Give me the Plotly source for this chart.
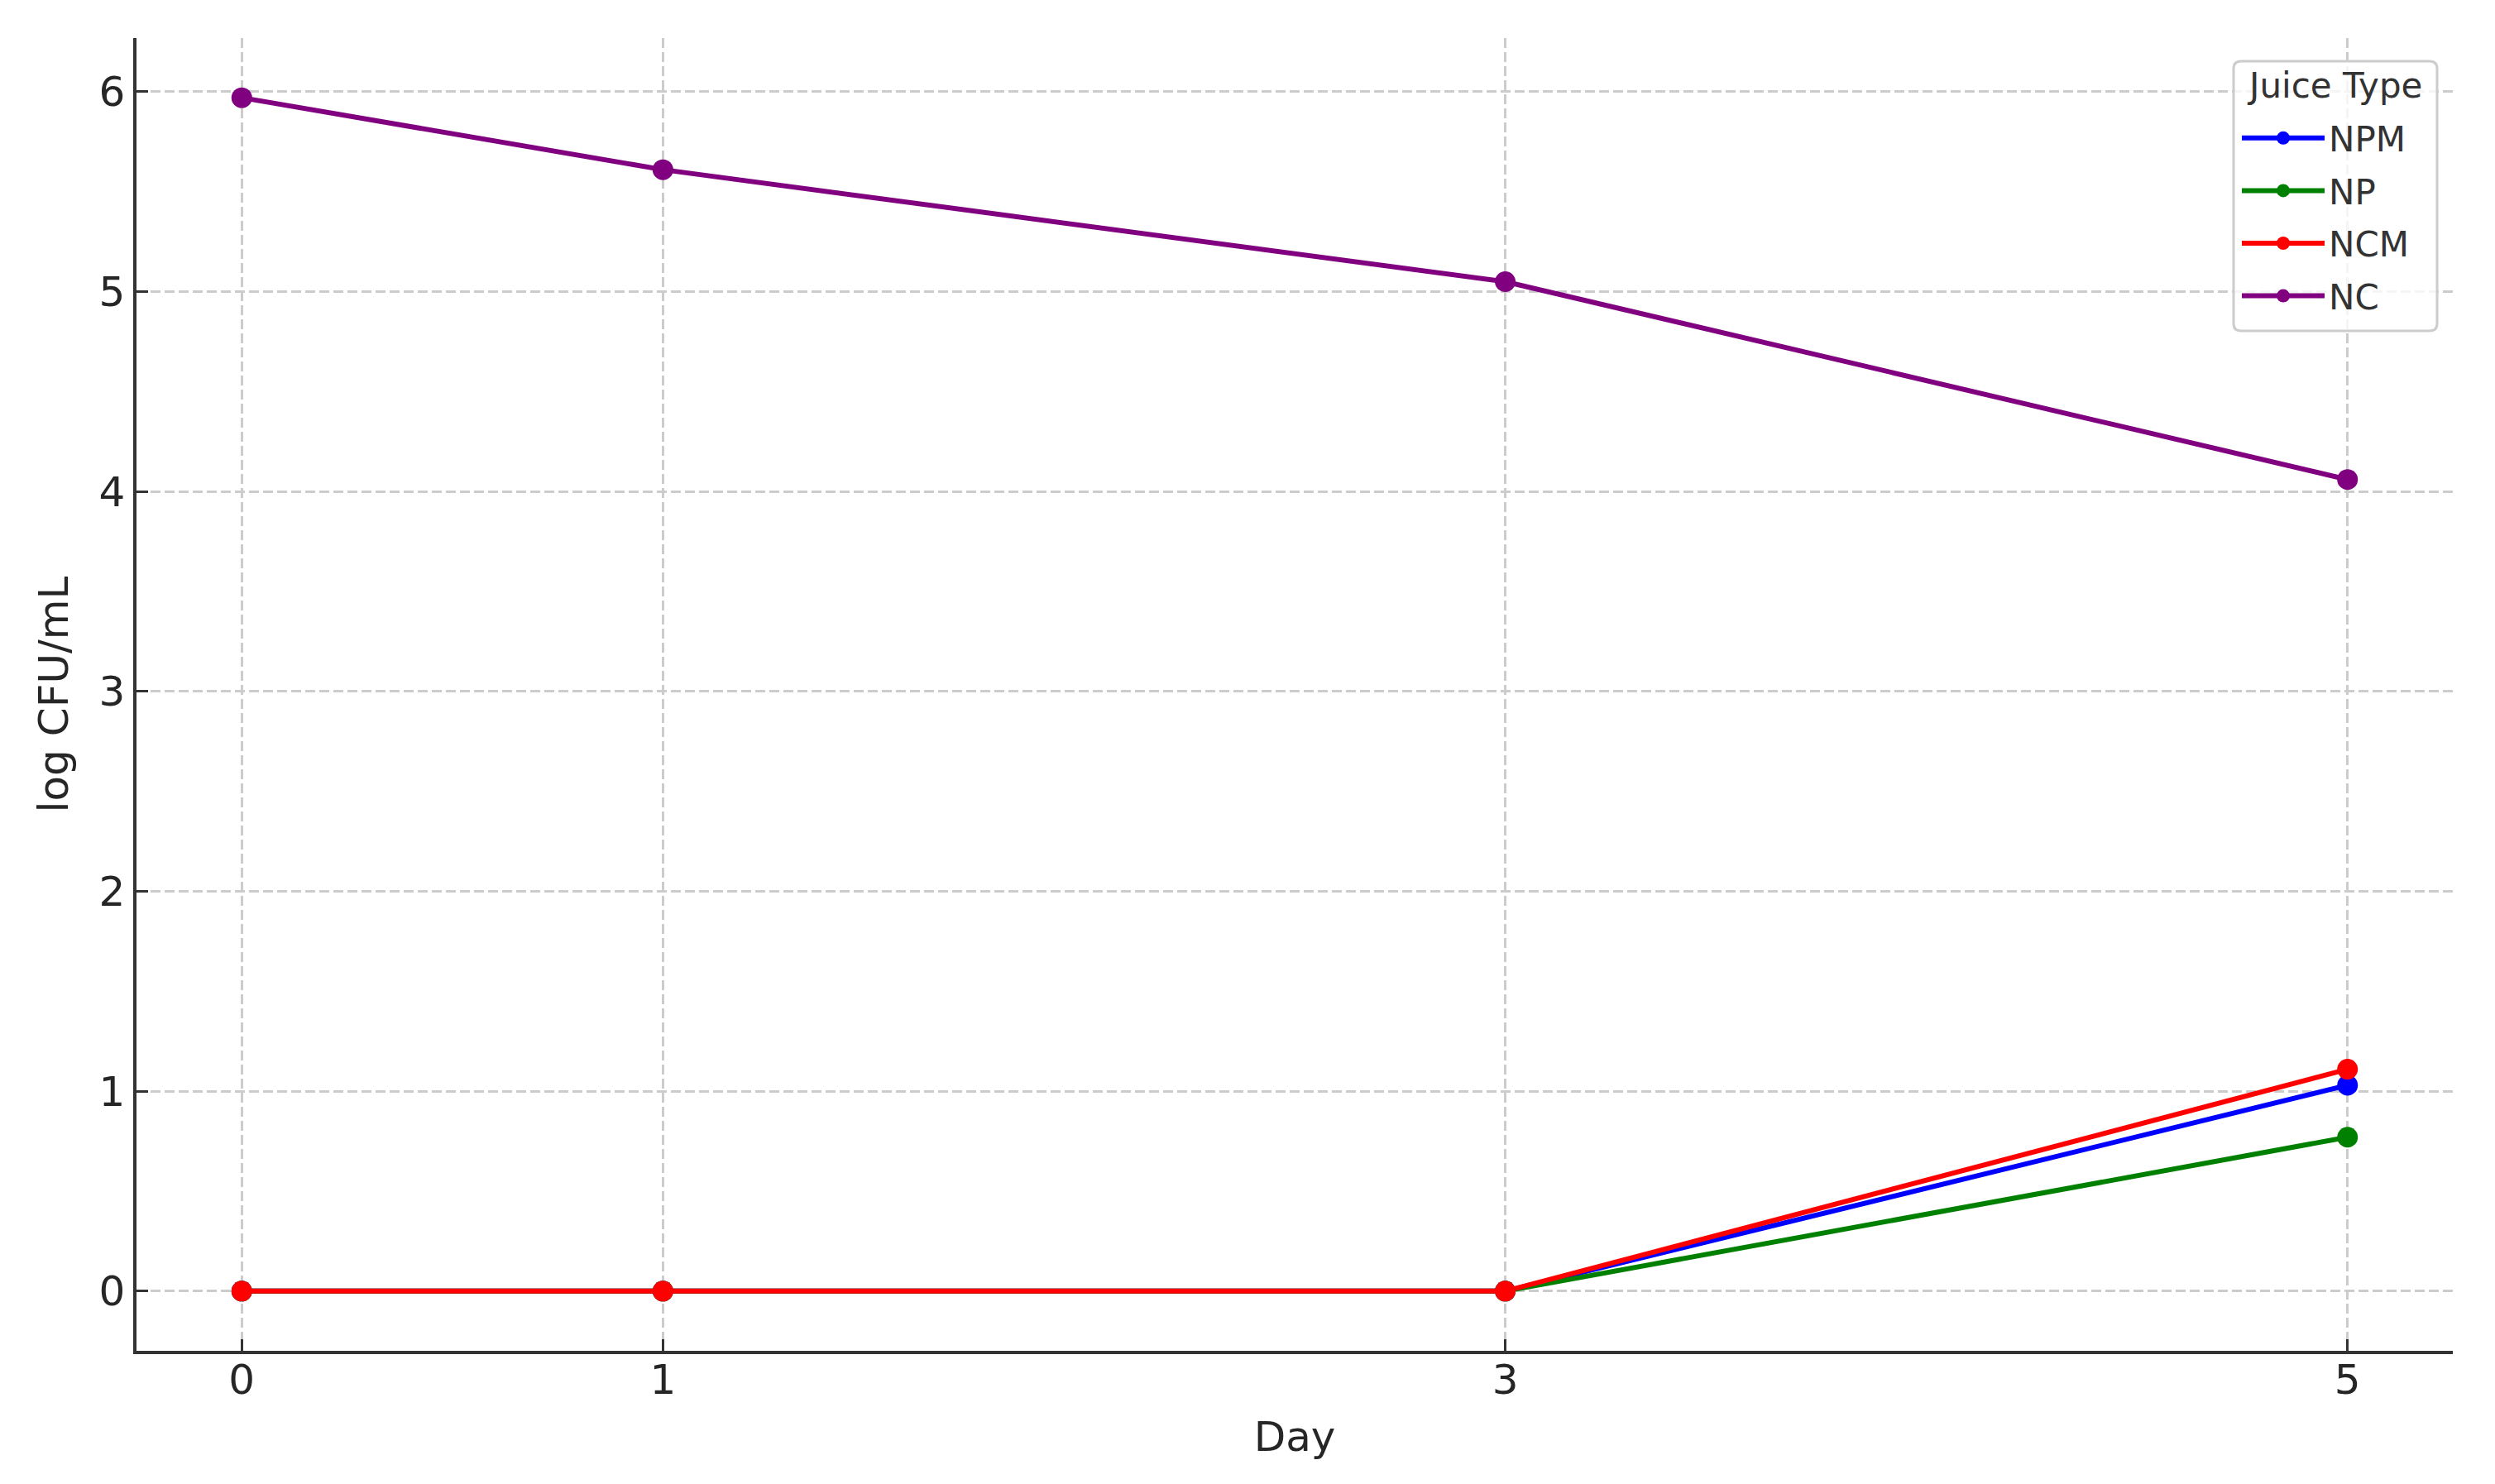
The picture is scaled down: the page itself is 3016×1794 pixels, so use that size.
import plotly.graph_objects as go

# Juice samples, log CFU/mL over storage days
days = [0, 1, 3, 5]
juice_types = ["NPM", "NP", "NCM", "NC"]
npm_values = [0, 0, 0, 1.03]
np_values = [0, 0, 0, 0.77]
ncm_values = [0, 0, 0, 1.11]
nc_values = [5.97, 5.61, 5.05, 4.06]
line_colors = ["blue", "green", "red", "purple"]
y_ticks = [0, 1, 2, 3, 4, 5, 6]

series = [npm_values, np_values, ncm_values, nc_values]

FONT = "DejaVu Sans"
DARK = "#262626"
AXIS = "#333333"
W, H = 3016, 1794
M_L, M_R, M_T, M_B = 157, 59, 38, 169

fig = go.Figure()
for name, values, color in zip(juice_types, series, line_colors):
    fig.add_trace(go.Scatter(
        x=days, y=values, name=name, legendgroup=name, mode="lines+markers",
        line=dict(color=color, width=6),
        marker=dict(color=color, size=25),
    ))

# matplotlib-like 5% margins around the data
all_y = [v for s in series for v in s]
y_pad = (max(all_y) - min(all_y)) * 0.05
x_pad = (max(days) - min(days)) * 0.05

axis_common = dict(
    showline=True, linecolor=AXIS, linewidth=3.5, mirror=False,
    ticks="inside", ticklen=14, tickwidth=3.3, tickcolor=AXIS,
    showgrid=True, gridcolor="#cccccc", gridwidth=3, griddash="12px,5px",
    zeroline=False,
    tickfont=dict(family=FONT, size=50, color=DARK),
)


def px_to_paper(px, py):
    # pixel position on the page -> paper coords of the plot area
    pw = W - M_L - M_R
    ph = H - M_T - M_B
    return (px - M_L) / pw, (H - M_B - py) / ph


def rounded_box(x0, y0, x1, y1, r=9):
    # legend frame with slightly rounded corners (matplotlib look)
    a0, b1 = px_to_paper(x0, y0)
    a1, b0 = px_to_paper(x1, y1)
    rx = r / (W - M_L - M_R)
    ry = r / (H - M_T - M_B)
    return (
        f"M{a0 + rx},{b1} L{a1 - rx},{b1} Q{a1},{b1} {a1},{b1 - ry} "
        f"L{a1},{b0 + ry} Q{a1},{b0} {a1 - rx},{b0} "
        f"L{a0 + rx},{b0} Q{a0},{b0} {a0},{b0 + ry} "
        f"L{a0},{b1 - ry} Q{a0},{b1} {a0 + rx},{b1} Z"
    )


leg_x, leg_y = px_to_paper(2697, 125)
title_x, title_y = px_to_paper(2814, 96)

fig.update_layout(
    width=W, height=H,
    margin=dict(l=M_L, r=M_R, t=M_T, b=M_B, autoexpand=False),
    paper_bgcolor="white", plot_bgcolor="white",
    font=dict(family=FONT, color=DARK),
    xaxis=dict(
        axis_common,
        range=[min(days) - x_pad, max(days) + x_pad],
        tickvals=days,
        ticklabelstandoff=-12,
        title=dict(text="Day", font=dict(family=FONT, size=50, color=DARK), standoff=24),
    ),
    yaxis=dict(
        axis_common,
        range=[min(all_y) - y_pad, max(all_y) + y_pad],
        tickvals=y_ticks,
        title=dict(text="log CFU/mL", font=dict(family=FONT, size=50, color=DARK), standoff=22),
    ),
    legend=dict(
        font=dict(family=FONT, size=42, color="#333333"),
        x=leg_x, y=leg_y, xanchor="left", yanchor="top",
        bgcolor="rgba(0,0,0,0)", borderwidth=0,
        itemwidth=100, tracegroupgap=6,
    ),
    shapes=[dict(
        type="path", xref="paper", yref="paper",
        path=rounded_box(2692, 66, 2938, 392),
        line=dict(color="#cccccc", width=3),
        fillcolor="rgba(255,255,255,0.8)", layer="above",
    )],
    annotations=[dict(
        text="Juice Type", xref="paper", yref="paper",
        x=title_x, y=title_y, xanchor="center", yanchor="middle",
        showarrow=False, font=dict(family=FONT, size=42, color="#333333"),
    )],
)

fig.write_html("out.html")
